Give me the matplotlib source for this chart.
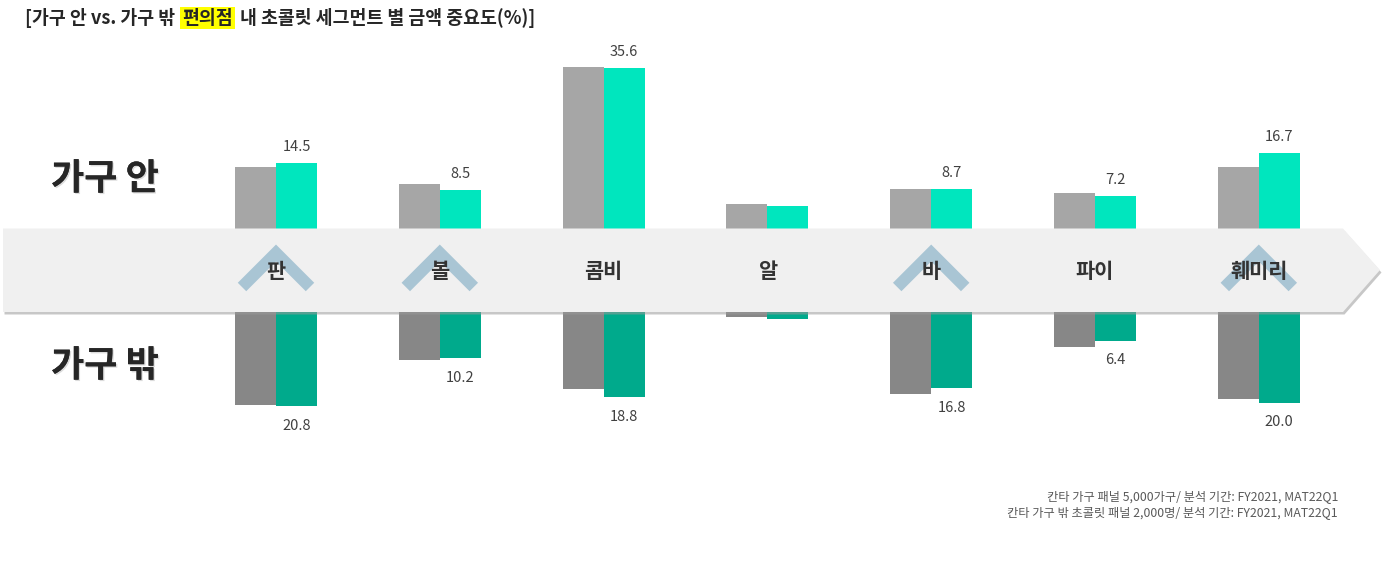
import matplotlib
matplotlib.use('Agg')
import matplotlib.pyplot as plt
from matplotlib.patches import Polygon
from matplotlib.lines import Line2D
import matplotlib.patheffects as pe

plt.rcParams['font.family'] = ['Noto Sans CJK KR', 'DejaVu Sans']

# ---------------- data ----------------
categories = ['판', '볼', '콤비', '알', '바', '파이', '훼미리']
in_prev = [13.6, 9.8, 36.0, 5.4, 8.7, 8.0, 13.6]      # 가구 안 (grey)
in_curr = [14.5, 8.5, 35.6, 5.0, 8.7, 7.2, 16.7]      # 가구 안 (teal)
out_prev = [20.5, 10.5, 17.0, 1.2, 18.1, 7.8, 19.3]   # 가구 밖 (grey)
out_curr = [20.8, 10.2, 18.8, 1.6, 16.8, 6.4, 20.0]   # 가구 밖 (teal)
in_labels = ['14.5', '8.5', '35.6', '', '8.7', '7.2', '16.7']
out_labels = ['20.8', '10.2', '18.8', '', '16.8', '6.4', '20.0']
chevron_flags = [True, True, False, False, True, False, True]
title_pre = '[가구 안 vs. 가구 밖'
title_hl = '편의점'
title_post = '내 초콜릿 세그먼트 별 금액 중요도(%)]'
row_labels = ['가구 안', '가구 밖']
notes = ['칸타 가구 패널 5,000가구/ 분석 기간: FY2021, MAT22Q1',
         '칸타 가구 밖 초콜릿 패널 2,000명/ 분석 기간: FY2021, MAT22Q1']

# ---------------- layout ----------------
W, H = 1387, 578
C0, STEP = 276.0, 163.8          # pixel centre of first category, spacing
BAND_TOP, BAND_BOT = 228.5, 312.0
TOP_AX_TOP = 40.0
BOT_AX_BOT = 540.0
PX_TOP, PX_BOT = 4.5, 4.53       # pixels per % unit
BW = 0.25

c_in_prev, c_in_curr = '#a6a6a6', '#00e6be'
c_out_prev, c_out_curr = '#878787', '#00aa8c'

fig = plt.figure(figsize=(W / 100, H / 100), dpi=100)
fig.patch.set_facecolor('white')

xlim = ((0 - C0) / STEP, (W - C0) / STEP)
x = list(range(len(categories)))

# top axes (가구 안)
ax_t = fig.add_axes([0, 1 - BAND_TOP / H, 1, (BAND_TOP - TOP_AX_TOP) / H])
ax_t.set_xlim(*xlim)
ax_t.set_ylim(0, (BAND_TOP - TOP_AX_TOP) / PX_TOP)
ax_t.bar([i - BW / 2 for i in x], in_prev, width=BW, color=c_in_prev, zorder=2)
ax_t.bar([i + BW / 2 for i in x], in_curr, width=BW, color=c_in_curr, zorder=2)
for i, (v, lab) in enumerate(zip(in_curr, in_labels)):
    if lab:
        ax_t.annotate(lab, xy=(i + BW / 2, v), xytext=(0, 11.5), textcoords='offset points',
                      ha='center', va='center', fontsize=10.5, color='#404040')
ax_t.axis('off')

# bottom axes (가구 밖)
ax_b = fig.add_axes([0, 1 - BOT_AX_BOT / H, 1, (BOT_AX_BOT - BAND_BOT) / H])
ax_b.set_xlim(*xlim)
ax_b.set_ylim((BOT_AX_BOT - BAND_BOT) / PX_BOT, 0)
ax_b.bar([i - BW / 2 for i in x], out_prev, width=BW, color=c_out_prev, zorder=2)
ax_b.bar([i + BW / 2 for i in x], out_curr, width=BW, color=c_out_curr, zorder=2)
for i, (v, lab) in enumerate(zip(out_curr, out_labels)):
    if lab:
        ax_b.annotate(lab, xy=(i + BW / 2, v), xytext=(0, -14), textcoords='offset points',
                      ha='center', va='center', fontsize=10.5, color='#404040')
ax_b.axis('off')

# overlay axes in pixel coordinates (arrow band, chevrons, labels)
ov = fig.add_axes([0, 0, 1, 1])
ov.set_xlim(0, W)
ov.set_ylim(H, 0)
ov.axis('off')
ov.patch.set_alpha(0)

band = [(3, BAND_TOP), (1343, BAND_TOP), (1380, 270), (1343, BAND_BOT), (3, BAND_BOT)]
shadow = [(px + 1.5, py + 2.5) for px, py in band]
ov.add_patch(Polygon(shadow, closed=True, fc='#9a9a9a', ec='none', alpha=0.55, zorder=1))
ov.add_patch(Polygon(band, closed=True, fc='#f0f0f0', ec='none', zorder=2))

for i, cat in enumerate(categories):
    cx = C0 + STEP * i
    if chevron_flags[i]:
        ov.add_line(Line2D([cx - 34, cx, cx + 34], [287, 253, 287], lw=8.6,
                           color='#a9c5d4', solid_joinstyle='miter',
                           solid_capstyle='butt', zorder=3))
    ov.text(cx, 271, cat, ha='center', va='center', fontsize=15, fontweight='bold',
            color='#333333', zorder=4)

shadow_fx = [pe.withSimplePatchShadow(offset=(1, -1), shadow_rgbFace='#999999', alpha=0.35),
             pe.Normal()]
ov.text(105, 179, row_labels[0], ha='center', va='center', fontsize=26,
        fontweight='bold', color='#262626', path_effects=shadow_fx)
ov.text(105, 366, row_labels[1], ha='center', va='center', fontsize=26,
        fontweight='bold', color='#262626', path_effects=shadow_fx)

# title with highlighted word
TFS = 13.2
t1 = ov.text(25, 18, title_pre, ha='left', va='center', fontsize=TFS,
             fontweight='bold', color='#262626')
t2 = ov.annotate(title_hl, xy=(1, 0.5), xycoords=t1, xytext=(5, 0),
                 textcoords='offset points', ha='left', va='center', fontsize=TFS,
                 fontweight='bold', color='#262626',
                 bbox=dict(boxstyle='square,pad=0.1', fc='#ffff00', ec='none'))
t3 = ov.annotate(title_post, xy=(1, 0.5), xycoords=t2, xytext=(5, 0),
                 textcoords='offset points', ha='left', va='center', fontsize=TFS,
                 fontweight='bold', color='#262626')

# footnotes
ov.text(1338, 497, notes[0], ha='right', va='center', fontsize=8.8, color='#595959')
ov.text(1338, 513, notes[1], ha='right', va='center', fontsize=8.8, color='#595959')

fig.savefig('out.png', dpi=100, facecolor='white')
